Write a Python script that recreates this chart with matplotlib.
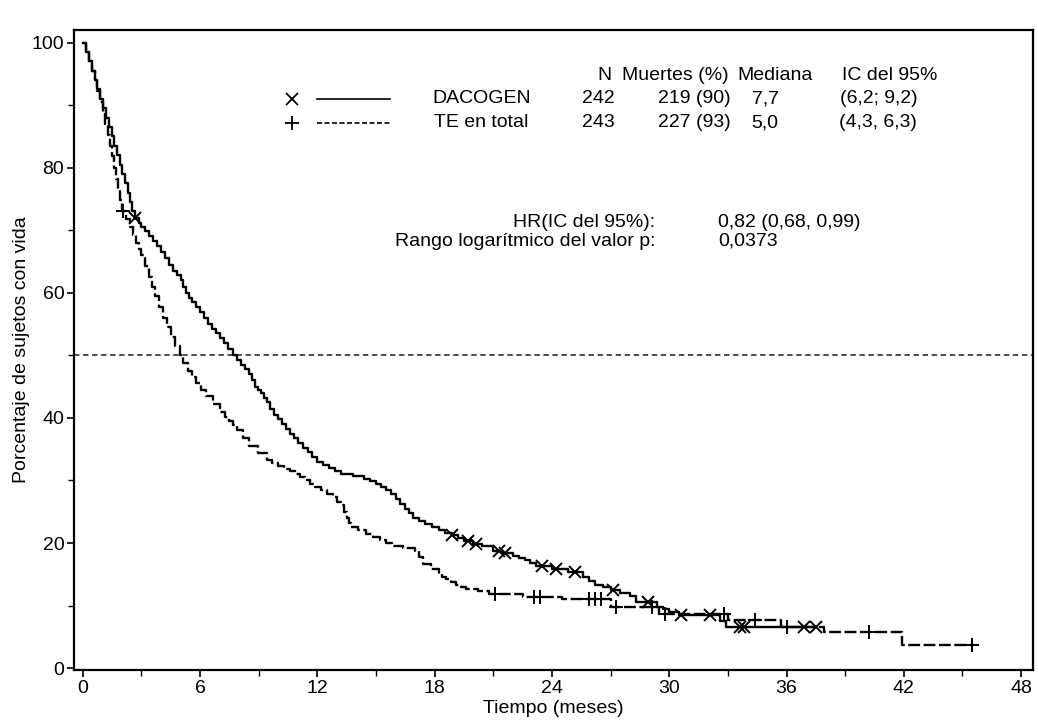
import numpy as np
import matplotlib.pyplot as plt

plt.rcParams['font.family'] = ['Liberation Sans', 'DejaVu Sans']

# Kaplan-Meier steps (months, % alive)
dac_t = [0, 0.15, 0.3, 0.45, 0.6, 0.75, 0.9, 1.05, 1.2, 1.35, 1.5, 1.62, 1.75, 1.88,
         2.0, 2.15, 2.3, 2.4, 2.5, 2.65, 2.85, 3.0, 3.2, 3.4, 3.6, 3.8, 4.0, 4.2,
         4.4, 4.6, 4.8, 5.0, 5.15, 5.3, 5.45, 5.6, 5.8, 6.0, 6.2, 6.4, 6.6, 6.8,
         7.0, 7.2, 7.45, 7.7, 7.9, 8.1, 8.3, 8.5, 8.65, 8.8, 8.95, 9.1, 9.25, 9.4,
         9.6, 9.8, 10.0, 10.2, 10.4, 10.6, 10.8, 11.0, 11.25, 11.5, 11.75, 12.0,
         12.3, 12.6, 12.9, 13.2, 13.8, 14.4, 14.7, 15.0, 15.25, 15.5, 15.75, 16.0,
         16.25, 16.5, 16.7, 16.9, 17.2, 17.5, 17.85, 18.2, 18.55, 18.9, 19.2, 19.5,
         19.95, 20.4, 21.0, 21.5, 22.0, 22.3, 22.6, 22.9, 23.2, 24.0, 24.8, 25.6,
         25.9, 26.2, 26.6, 27.0, 27.5, 28.0, 28.3, 29.4, 29.7, 30.0, 30.5, 32.6,
         32.9, 37.5]
dac_s = [100, 98.5, 97, 95.5, 94, 92.5, 91, 89.5, 88, 86.5, 85, 83.5, 82, 80.5,
         79, 77.5, 76, 74.5, 73, 72, 71.2, 70.5, 69.8, 69, 68.2, 67.5, 66.5, 65.5,
         64.5, 63.5, 62.8, 62, 61, 60, 59.2, 58.5, 57.8, 57, 56, 55, 54.2, 53.5,
         52.8, 52, 51, 50, 49.2, 48.5, 47.8, 47, 46, 45, 44.5, 44, 43.2, 42.5,
         41.5, 40.5, 39.8, 39, 38.2, 37.5, 36.8, 36, 35.2, 34.5, 33.8, 33,
         32.5, 32, 31.5, 31, 30.7, 30.3, 29.9, 29.5, 29, 28.5, 27.8, 27,
         26.2, 25.5, 24.8, 24, 23.5, 23, 22.5, 22, 21.6, 21.3, 20.8, 20.3,
         19.9, 19.5, 18.8, 18.4, 18, 17.6, 17.3, 16.8, 16.3, 15.9, 15.4, 14.5,
         13.9, 13.3, 12.9, 12.5, 12.0, 11.5, 10.5, 9.8, 9.4, 9.0, 8.5, 7.5,
         6.6, 6.6]
dac_cens = [2.65, 18.9, 19.7, 20.1, 21.3, 21.6, 23.5, 24.2, 25.2, 27.1, 28.9,
            30.6, 32.1, 33.6, 33.8, 36.9, 37.5]

te_t = [0, 0.15, 0.3, 0.45, 0.6, 0.75, 0.9, 1.02, 1.15, 1.28, 1.4, 1.5, 1.6, 1.7,
        1.8, 1.9, 2.0, 2.2, 2.4, 2.55, 2.7, 2.85, 3.0, 3.2, 3.4, 3.55, 3.7, 3.9,
        4.1, 4.3, 4.5, 4.7, 4.95, 5.15, 5.4, 5.6, 5.8, 6.05, 6.3, 6.65, 7.0, 7.25,
        7.5, 7.7, 7.9, 8.2, 8.5, 8.95, 9.4, 9.7, 10.0, 10.3, 10.6, 10.85, 11.1,
        11.35, 11.6, 11.9, 12.2, 12.5, 12.8, 13.0, 13.2, 13.35, 13.5, 13.6, 13.7,
        14.1, 14.5, 14.85, 15.2, 15.5, 15.8, 16.4, 17.0, 17.2, 17.4, 17.8, 18.2,
        18.4, 18.6, 18.85, 19.1, 19.35, 19.6, 20.2, 20.8, 22.5, 24.5, 27.0, 29.5,
        33.0, 35.7, 37.9, 41.9, 45.5]
te_s = [100, 98.5, 97, 95.5, 94, 92.2, 90.5, 88.8, 87, 85.2, 83.5, 81.8, 80, 78.2,
        76.5, 74.8, 73, 71.8, 70.5, 69.2, 68, 67, 66, 64.2, 62.5, 61, 59.5, 57.8,
        56, 54.5, 53, 51.5, 50, 48.8, 47.5, 46.5, 45.5, 44.5, 43.5, 42.2, 41, 40.2,
        39.5, 38.8, 38, 36.8, 35.5, 34.4, 33.3, 32.8, 32.3, 31.9, 31.5, 31, 30.5,
        30, 29.5, 29, 28.5, 27.9, 27.3, 26.6, 26.0, 25, 24.0, 23.2, 22.5,
        22, 21.5, 21, 20.5, 20, 19.6, 19.2, 18.8, 17.7, 16.7, 15.9, 15.1,
        14.6, 14.2, 13.7, 13.3, 13, 12.7, 12.3, 11.9, 11.4, 11.0, 9.8, 8.7,
        7.7, 6.6, 5.8, 3.7, 3.7]
te_cens = [2.05, 21.1, 23.1, 23.4, 25.9, 26.2, 26.5, 27.3, 29.1, 29.8, 32.8,
           34.4, 36.0, 40.2, 45.5]

groups = ['DACOGEN', 'TE en total']
n_pts = ['242', '243']
deaths = ['219 (90)', '227 (93)']
medians = ['7,7', '5,0']
ci95 = ['(6,2; 9,2)', '(4,3, 6,3)']


def step_at(t, s, x):
    # value of the step curve at time x
    i = np.searchsorted(t, x, side='right') - 1
    return np.asarray(s)[i]


fig = plt.figure(figsize=(10.38, 7.27), dpi=100)
ax = fig.add_axes([0.0713, 0.0784, 0.9237, 0.8803])

ax.axhline(50, color='0.25', lw=1.3, ls=(0, (3, 2)))

ax.plot(dac_t, dac_s, drawstyle='steps-post', color='black', lw=1.7)
ax.plot(te_t, te_s, drawstyle='steps-post', color='black', lw=1.7, ls=(0, (5, 1.5)))
ax.plot(dac_cens, step_at(dac_t, dac_s, dac_cens), 'x', color='black', ms=9, mew=1.4)
ax.plot(te_cens, step_at(te_t, te_s, te_cens), '+', color='black', ms=10, mew=1.4)

# legend table
fs = 14
hdr_y, row_y = 94.8, [91.0, 87.2]
ax.plot([10.7], [row_y[0]], 'x', color='black', ms=9, mew=1.3)
ax.plot([10.7], [row_y[1]], '+', color='black', ms=10, mew=1.3)
ax.plot([12.0, 15.7], [row_y[0]] * 2, color='black', lw=1.2)
ax.plot([12.0, 15.7], [row_y[1]] * 2, color='black', lw=1.2, ls=(0, (3, 1.5)))
for x, h in zip([26.7, 30.3, 35.4, 41.3], ['N', 'Muertes (%)', 'Mediana', 'IC del 95%']):
    ax.text(x, hdr_y, h, ha='center', va='center', fontsize=fs)
for k in range(2):
    ax.text(20.4, row_y[k], groups[k], ha='center', va='center', fontsize=fs)
    ax.text(26.4, row_y[k], n_pts[k], ha='center', va='center', fontsize=fs)
    ax.text(31.3, row_y[k], deaths[k], ha='center', va='center', fontsize=fs)
    ax.text(34.9, row_y[k], medians[k], ha='center', va='center', fontsize=fs)
    ax.text(40.7, row_y[k], ci95[k], ha='center', va='center', fontsize=fs)

ax.text(29.3, 71.2, 'HR(IC del 95%):', ha='right', va='center', fontsize=fs)
ax.text(32.5, 71.2, '0,82 (0,68, 0,99)', ha='left', va='center', fontsize=fs)
ax.text(29.3, 68.2, 'Rango logarítmico del valor p:', ha='right', va='center', fontsize=fs)
ax.text(32.5, 68.2, '0,0373', ha='left', va='center', fontsize=fs)

ax.set_xlim(-0.45, 48.6)
ax.set_ylim(-0.3, 102)
ax.set_xticks(np.arange(0, 49, 6))
ax.set_xticks(np.arange(3, 48, 6), minor=True)
ax.set_yticks(np.arange(0, 101, 20))
ax.set_yticks(np.arange(10, 100, 20), minor=True)
ax.tick_params(labelsize=14, width=1.2, length=5, color='black', pad=2)
ax.tick_params(which='minor', width=1.0, length=4)
for sp in ax.spines.values():
    sp.set_linewidth(1.6)
ax.set_xlabel('Tiempo (meses)', fontsize=14, labelpad=2)
ax.set_ylabel('Porcentaje de sujetos con vida', fontsize=14, labelpad=1)

fig.savefig('out.png', dpi=100)
